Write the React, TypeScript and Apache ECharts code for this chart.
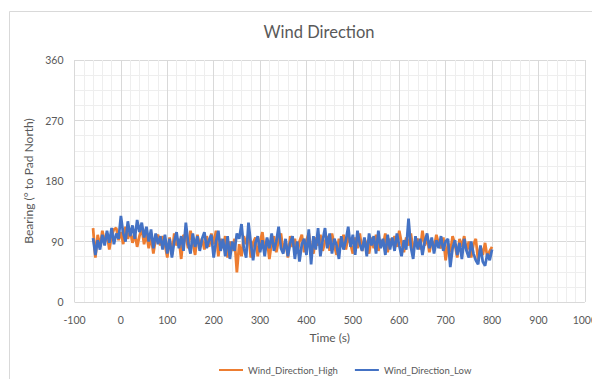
import React, { useEffect, useRef } from "react";
import * as echarts from "echarts";

const T0 = -60;
const STEP = 5;

const windHigh = [
  110, 66, 100, 82, 106, 90, 102, 78, 98, 108,
  110, 92, 104, 86, 112, 94, 106, 88, 102, 82,
  98, 110, 86, 102, 80, 98, 72, 94, 100, 84,
  98, 86, 66, 96, 70, 102, 84, 94, 64, 100,
  96, 80, 106, 88, 70, 100, 84, 94, 78, 98,
  82, 102, 86, 106, 68, 94, 80, 98, 66, 90,
  76, 94, 44, 86, 68, 98, 86, 102, 66, 88,
  96, 68, 90, 104, 76, 94, 64, 88, 98, 74,
  92, 102, 76, 90, 66, 98, 82, 94, 72, 90,
  100, 74, 92, 102, 80, 72, 96, 84, 100, 76,
  90, 98, 76, 102, 84, 70, 94, 82, 100, 78,
  98, 86, 72, 96, 80, 102, 76, 94, 84, 72,
  96, 80, 100, 76, 92, 84, 102, 74, 94, 86,
  98, 82, 106, 88, 74, 96, 84, 102, 78, 90,
  94, 78, 106, 84, 96, 74, 92, 80, 100, 86,
  80, 96, 62, 88, 74, 98, 86, 66, 94, 82,
  98, 76, 90, 66, 86, 94, 62, 82, 70, 88,
  66, 76, 82,
];

const windLow = [
  95, 70, 92, 78, 100, 84, 106, 88, 110, 86,
  102, 94, 128, 102, 90, 120, 98, 114, 94, 122,
  104, 118, 96, 112, 90, 108, 80, 102, 86, 98,
  78, 100, 72, 94, 66, 90, 104, 80, 98, 76,
  118, 88, 72, 102, 82, 98, 76, 94, 104, 80,
  92, 100, 66, 90, 106, 76, 94, 68, 98, 64,
  90, 76, 102, 94, 116, 80, 66, 118, 88, 62,
  88, 98, 74, 92, 68, 96, 80, 102, 76, 90,
  112, 80, 72, 94, 68, 88, 98, 64, 90, 60,
  86, 94, 70, 108, 56, 98, 78, 110, 68, 92,
  110, 80, 102, 72, 94, 84, 64, 98, 78, 92,
  112, 82, 100, 70, 106, 86, 76, 96, 68, 102,
  84, 98, 72, 106, 80, 94, 70, 100, 78, 96,
  76, 102, 84, 68, 92, 78, 124, 82, 64, 98,
  78, 94, 70, 90, 102, 80, 96, 72, 92, 80,
  98, 76, 90, 94, 52, 80, 92, 70, 88, 64,
  94, 76, 66, 90, 72, 62, 56, 84, 60, 54,
  72, 62, 78,
];

const seriesNames = ["Wind_Direction_High", "Wind_Direction_Low"];
const colors = ["#ED7D31", "#4472C4"];

const toPairs = (vals: number[]) => vals.map((v, i) => [T0 + i * STEP, v]);

const FONT = "Lato, 'Open Sans', sans-serif";
const TXT = "#595959";

export default function App() {
  const ref = useRef<HTMLDivElement>(null);
  useEffect(() => {
    if (!ref.current) return;
    const chart = echarts.init(ref.current, undefined, { renderer: "svg" });
    chart.setOption({
      animation: false,
      backgroundColor: "#ffffff",
      textStyle: { fontFamily: FONT },
      title: {
        text: "Wind Direction",
        left: 314,
        top: 18,
        textAlign: "center",
        textStyle: { fontFamily: FONT, fontSize: 16.5, fontWeight: "normal", color: TXT },
      },
      graphic: [
        {
          type: "rect",
          shape: { x: 9.5, y: 11.5, width: 620, height: 400 },
          style: { fill: "none", stroke: "#d9d9d9", lineWidth: 1 },
          silent: true,
          z: -1,
        },
      ],
      legend: {
        top: 358,
        left: 214,
        orient: "horizontal",
        icon: "rect",
        itemWidth: 24,
        itemHeight: 2,
        itemGap: 17,
        textStyle: { fontFamily: FONT, fontSize: 9.5, color: TXT, lineHeight: 14 },
        data: seriesNames,
      },
      grid: { left: 74.5, right: 12, top: 60, bottom: 85, containLabel: false },
      xAxis: {
        type: "value",
        min: -100,
        max: 1000,
        interval: 100,
        name: "Time (s)",
        nameLocation: "middle",
        nameGap: 29,
        nameTextStyle: { fontFamily: FONT, fontSize: 12, color: TXT },
        axisLine: { show: false },
        axisTick: { show: false },
        axisLabel: { fontFamily: FONT, fontSize: 10.5, color: TXT, margin: 12, formatter: (v: number) => String(v) },
        splitLine: { show: true, lineStyle: { color: "#d9d9d9", width: 1 } },
        minorTick: { show: false, splitNumber: 5 },
        minorSplitLine: { show: true, lineStyle: { color: "#eeeeee", width: 1 } },
      },
      yAxis: {
        type: "value",
        min: 0,
        max: 360,
        interval: 90,
        name: "Bearing (° to Pad North)",
        nameLocation: "middle",
        nameGap: 38,
        nameTextStyle: { fontFamily: FONT, fontSize: 12, color: TXT },
        axisLine: { show: false },
        axisTick: { show: false },
        axisLabel: { fontFamily: FONT, fontSize: 10.5, color: TXT, margin: 11 },
        splitLine: { show: true, lineStyle: { color: "#d9d9d9", width: 1 } },
        minorTick: { show: false, splitNumber: 4 },
        minorSplitLine: { show: true, lineStyle: { color: "#eeeeee", width: 1 } },
      },
      series: [
        {
          name: seriesNames[0],
          type: "line",
          data: toPairs(windHigh),
          showSymbol: false,
          symbol: "none",
          lineStyle: { color: colors[0], width: 2.75 },
          itemStyle: { color: colors[0] },
          z: 2,
        },
        {
          name: seriesNames[1],
          type: "line",
          data: toPairs(windLow),
          showSymbol: false,
          symbol: "none",
          lineStyle: { color: colors[1], width: 2.75 },
          itemStyle: { color: colors[1] },
          z: 3,
        },
      ],
    });
    return () => chart.dispose();
  }, []);
  return <div ref={ref} style={{ width: 600, height: 387, margin: -8 }} />;
}
